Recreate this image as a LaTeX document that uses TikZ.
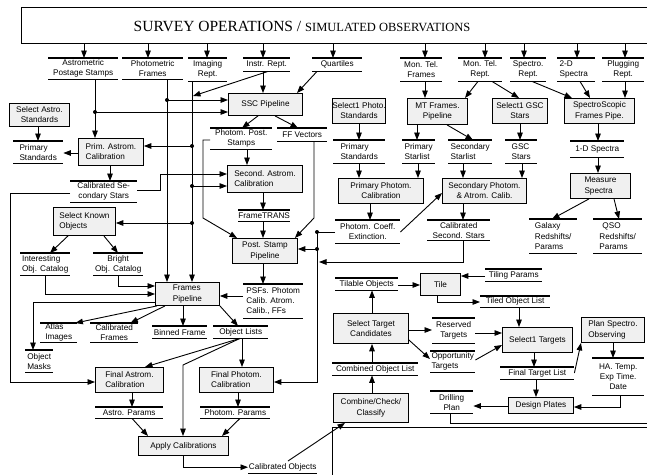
\documentclass[tikz,border=0pt]{standalone}
\usepackage{fontspec}
\setmainfont{Liberation Sans}
\newfontfamily\titlefont{Liberation Serif}
\usetikzlibrary{arrows.meta}

\begin{document}
\begin{tikzpicture}[x=1pt,y=-1pt,
  font=\fontsize{8.2}{10.2}\selectfont,
  arr/.style={line width=0.9pt,-{Triangle[length=7.5pt,width=5.6pt]}},
  ln/.style={line width=0.9pt},
  proc/.style={draw,line width=0.9pt,fill=gray!12,inner sep=0pt,align=center,anchor=north west},
  store/.style={inner sep=0pt,align=center,anchor=north west,
    append after command={(\tikzlastnode.north west) edge[line width=1.3pt] (\tikzlastnode.north east)
      (\tikzlastnode.south west) edge[line width=0.8pt] (\tikzlastnode.south east)}},
  tstore/.style={inner sep=0pt,align=center,anchor=north west,
    append after command={(\tikzlastnode.north west) edge[line width=2.2pt] (\tikzlastnode.north east)
      (\tikzlastnode.south west) edge[line width=0.8pt] (\tikzlastnode.south east)}},
  ustore/.style={inner sep=0pt,align=center,anchor=north west,
    append after command={(\tikzlastnode.south west) edge[line width=0.8pt] (\tikzlastnode.south east)}}
]
\useasboundingbox (0,0) rectangle (647,474);
\begin{scope}
\clip (0,0) rectangle (647,474);

% ---------- title bar ----------
\node[draw,line width=0.9pt,anchor=north west,minimum width=660,minimum height=36,inner sep=0pt] (title) at (21,7) {};
\node (titletext) at (302,26) {\titlefont\fontsize{15.5}{18}\selectfont SURVEY OPERATIONS / \fontsize{12.5}{14}\selectfont SIMULATED OBSERVATIONS};

% ---------- processes ----------
\node[proc,minimum width=60,minimum height=23] (selastro) at (9,103) {Select Astro.\\Standards};
\node[proc,minimum width=65,minimum height=27,align=left] (primastro) at (78,138) {Prim. Astrom.\\Calibration};
\node[proc,minimum width=74,minimum height=22] (ssc) at (228,93) {SSC Pipeline};
\node[proc,minimum width=75,minimum height=27,align=left] (secastro) at (227,165) {Second. Astrom.\\Calibration};
\node[proc,minimum width=62,minimum height=28,align=left] (selknown) at (53,207) {Select Known\\Objects};
\node[proc,minimum width=65,minimum height=25] (poststamp) at (232,238) {Post. Stamp\\Pipeline};
\node[proc,minimum width=64,minimum height=23,align=left] (frames) at (155,282) {Frames\\Pipeline};
\node[proc,minimum width=68,minimum height=25,align=left] (finastro) at (95,367) {Final Astrom.\\Calibration};
\node[proc,minimum width=74,minimum height=25,align=left] (finphotom) at (199,367) {Final Photom.\\Calibration};
\node[proc,minimum width=90,minimum height=19] (apply) at (138,436) {Apply Calibrations};
\node[proc,minimum width=52,minimum height=25] (selphoto) at (332,98) {Select1 Photo.\\Standards};
\node[proc,minimum width=60,minimum height=26] (mtframes) at (407,98) {MT Frames.\\Pipeline};
\node[proc,minimum width=55,minimum height=25] (selgsc) at (492,98) {Select1 GSC\\Stars};
\node[proc,minimum width=70,minimum height=25] (spectro) at (564,98) {SpectroScopic\\Frames Pipe.};
\node[proc,minimum width=85,minimum height=25] (primphot) at (338,178) {Primary Photom.\\Calibration};
\node[proc,minimum width=84,minimum height=25] (secphot) at (442,178) {Secondary Photom.\\\& Atrom. Calib.};
\node[proc,minimum width=60,minimum height=25,align=left] (measure) at (570,173) {Measure\\Spectra};
\node[proc,minimum width=40,minimum height=22] (tile) at (420,273) {Tile};
\node[proc,minimum width=75,minimum height=30] (seltc) at (333,313) {Select Target\\Candidates};
\node[proc,minimum width=75,minimum height=29] (combine) at (333,393) {Combine/Check/\\Classify};
\node[proc,minimum width=70,minimum height=25] (seltargets) at (502,327) {Select1 Targets};
\node[proc,minimum width=63,minimum height=25,align=left] (plan) at (581,317) {Plan Spectro.\\Observing};
\node[proc,minimum width=65,minimum height=16] (design) at (508,397) {Design Plates};

% ---------- data stores ----------
\node[store,minimum width=70,minimum height=21] (astrost) at (48,58) {Astrometric\\Postage Stamps};
\node[store,minimum width=61,minimum height=21] (photfr) at (122,58) {Photometric\\Frames};
\node[store,minimum width=39,minimum height=23] (imaging) at (188,58) {Imaging\\Rept.};
\node[store,minimum width=47,minimum height=13] (instr) at (243,58) {Instr. Rept.};
\node[store,minimum width=50,minimum height=13] (quart) at (312,58) {Quartiles};
\node[store,minimum width=42,minimum height=23] (montelfr) at (400,58) {Mon. Tel.\\Frames};
\node[store,minimum width=44,minimum height=23] (montelrp) at (458,58) {Mon. Tel.\\Rept.};
\node[store,minimum width=36,minimum height=23] (specrept) at (510,58) {Spectro.\\Rept.};
\node[store,minimum width=38,minimum height=23,align=left] (twod) at (557,58) {2-D\hspace*{20pt}\\Spectra};
\node[store,minimum width=42,minimum height=23] (plugging) at (602,58) {Plugging\\Rept.};
\node[store,minimum width=50,minimum height=22,align=left] (primstd) at (13,141) {Primary\hspace*{8pt}\\Standards};
\node[store,minimum width=67,minimum height=21] (calsec) at (70,181) {Calibrated Se-\\condary Stars};
\node[store,minimum width=62,minimum height=21] (photpost) at (210,128) {Photom. Post.\\Stamps};
\node[store,minimum width=50,minimum height=13] (ffvec) at (277,128) {FF Vectors};
\node[store,minimum width=52,minimum height=11] (frametrans) at (238,210) {FrameTRANS};
\node[store,minimum width=50,minimum height=22,align=left] (interesting) at (20,253) {Interesting\\Obj. Catalog};
\node[store,minimum width=50,minimum height=22] (bright) at (93,253) {Bright\\Obj. Catalog};
\node[store,minimum width=60,minimum height=34,align=left] (psfs) at (243,284) {PSFs. Photom\\Calib. Atrom.\\Calib., FFs};
\node[store,minimum width=37,minimum height=19,align=left] (atlas) at (40,323) {Atlas\\Images};
\node[store,minimum width=48,minimum height=19] (calframes) at (90,323) {Calibrated\\Frames};
\node[store,minimum width=55,minimum height=12] (binned) at (152,326) {Binned Frame};
\node[store,minimum width=55,minimum height=12] (objlists) at (213,326) {Object Lists};
\node[store,minimum width=28,minimum height=22,align=left] (objmasks) at (25,350) {Object\\Masks};
\node[store,minimum width=68,minimum height=11] (astroparams) at (95,407) {Astro. Params};
\node[store,minimum width=70,minimum height=11] (photparams) at (200,407) {Photom. Params};
\node[ustore,minimum width=69,minimum height=12] (calobj) at (248,461) {Calibrated Objects};
\node[store,minimum width=52,minimum height=23,align=left] (primstd2) at (333,140) {Primary\hspace*{8pt}\\Standards};
\node[store,minimum width=33,minimum height=23,align=left] (primstar) at (402,140) {Primary\\Starlist};
\node[store,minimum width=44,minimum height=23,align=left] (secstar) at (448,140) {Secondary\\Starlist};
\node[store,minimum width=32,minimum height=23,align=left] (gscstars) at (505,140) {GSC\\Stars};
\node[store,minimum width=54,minimum height=16] (onedspec) at (570,141) {1-D Spectra};
\node[store,minimum width=65,minimum height=23] (photcoeff) at (335,220) {Photom. Coeff.\\Extinction.};
\node[tstore,minimum width=63,minimum height=20] (calsecond) at (427,220) {Calibrated\\Second. Stars};
\node[store,minimum width=48,minimum height=34,align=left] (galaxy) at (529,219) {Galaxy\\Redshifts/\\Params};
\node[store,minimum width=49,minimum height=34,align=left] (qso) at (593,219) {\hspace*{3pt}QSO\\Redshifts/\\Params};
\node[store,minimum width=63,minimum height=12] (tilable) at (335,278) {Tilable Objects};
\node[store,minimum width=57,minimum height=12] (tiling) at (485,269) {Tiling Params};
\node[store,minimum width=70,minimum height=11] (tiled) at (480,296) {Tiled Object List};
\node[store,minimum width=86,minimum height=12] (combobj) at (332,363) {Combined Object List};
\node[store,minimum width=43,minimum height=25] (reserved) at (432,318) {Reserved\\Targets};
\node[tstore,minimum width=45,minimum height=21,align=left] (opport) at (430,351) {Opportunity\\Targets};
\node[tstore,minimum width=74,minimum height=12] (finaltl) at (500,367) {Final Target List};
\node[store,minimum width=52,minimum height=37] (hatemp) at (592,358) {HA. Temp.\\Exp Time.\\Date};
\node[store,minimum width=43,minimum height=22] (drilling) at (430,391) {Drilling\\Plan};

% lower right panel
\node[draw,line width=1.1pt,anchor=north west,minimum width=330,minimum height=60,inner sep=0pt] (panel) at (332,427) {};

% ---------- junctions ----------
\coordinate (j1) at (95,112);
\coordinate (j2) at (167,100);
\coordinate (j3) at (193,96);
\coordinate (j4) at (192,146);
\coordinate (j5) at (192,186);
\coordinate (j6) at (192,223);
\coordinate (j7) at (317,232);
\coordinate (j8) at (317,249);

% ---------- flows from the survey ----------
\foreach \X/\N in {84/astrost,148/photfr,207/imaging,263/instr,333/quart,425/montelfr,485/montelrp,524/specrept,577/twod,625/plugging}
  \draw[arr] (title.south -| \X,0) -- (\N.north -| \X,0);

% ---------- astrometric / photometric chain ----------
\draw[arr] (astrost.south -| 95,0) -- (primastro.north -| 95,0);
\draw[arr] (j1) -- (ssc.west |- j1);
\draw[arr] (photfr.south -| 167,0) -- (frames.north -| 167,0);
\draw[arr] (j2) -- (ssc.west |- j2);
\draw[arr] (imaging.south -| 192,0) -- (frames.north -| 192,0);
\draw[arr] (instr.south -| 268,0) -- (j3);
\draw[arr] (j4) -- (primastro.east |- j4);
\draw[arr] (j5) -- (secastro.west |- j5);
\draw[arr] (j6) -- (selknown.east |- j6);
\draw[arr] (instr.south -| 263,0) -- (ssc.north -| 263,0);
\draw[arr] (quart.south -| 317,0) -- (ssc.north -| 297,0);
\draw[arr] (ssc.south -| 258,0) -- (photpost.north -| 242,0);
\draw[arr] (ssc.south -| 275,0) -- (ffvec.north -| 298,0);
\draw[arr] (selastro.south -| 38,0) -- (primstd.north -| 38,0);
\draw[arr] (primastro.west |- 0,153) -- (primstd.east |- 0,153);
\draw[arr] (primastro.south -| 110,0) -- (calsec.north -| 110,0);
\draw[arr] (calsec.east |- 0,190) -- (160,190) |- (secastro.west |- 0,174);
\draw[arr] (calsec.west |- 0,193) -- (10,193) |- (finastro.west |- 0,382);
\draw[arr] (photpost.south -| 247,0) -- (secastro.north -| 247,0);
\draw[arr] (photpost.west |- 0,140) -- (203,140) -- (203,218) -- ([xshift=5pt]poststamp.north west);
\draw[arr] (ffvec.south -| 314,0) -- (314,218) -- ([xshift=-3pt]poststamp.north east);
\draw[arr] (secastro.south -| 263,0) -- (frametrans.north -| 263,0);
\draw[arr] (frametrans.south -| 263,0) -- (poststamp.north -| 263,0);
\draw[arr] (poststamp.south -| 263,0) -- (psfs.north -| 263,0);
\draw[arr] (psfs.west |- 0,296) -- (frames.east |- 0,296);
\draw[ln] (photcoeff.west |- j7) -- (j7);
\draw[arr] (j7) -- (317,382) -- (finphotom.east |- 0,382);
\draw[arr] (j8) -- (poststamp.east |- j8);
\draw[arr] (calsecond.south -| 463,0) |- (319,262);
\draw[arr] (photcoeff.east |- 0,232) -- (secphot.west |- 0,193);

% ---------- object catalogs and frames ----------
\draw[arr] ([xshift=15pt]selknown.south west) -- (interesting.north -| 50,0);
\draw[arr] ([xshift=-12pt]selknown.south east) -- (bright.north -| 118,0);
\draw[arr] (interesting.south -| 45,0) |- (frames.west |- 0,294);
\draw[arr] (bright.south -| 118,0) |- (frames.west |- 0,286);
\draw[arr] (frames.west |- 0,302) -| (objmasks.north -| 33,0);
\draw[arr] ([xshift=2pt]frames.south west) -- ([xshift=-2pt]atlas.north east);
\draw[arr] ([xshift=10pt]frames.south west) -- ([xshift=-8pt]calframes.north east);
\draw[arr] (frames.south -| 183,0) -- (binned.north -| 183,0);
\draw[arr] (frames.south east) -- (objlists.north -| 238,0);
\draw[arr] (objlists.south -| 240,0) -- (finastro.north -| 145,0);
\draw[arr] (objlists.south -| 240,0) -- (183,365) -- (apply.north -| 183,0);
\draw[arr] (objlists.south -| 242,0) -- (finphotom.north -| 242,0);
\draw[arr] (finastro.south -| 132,0) -- (astroparams.north -| 132,0);
\draw[arr] (finphotom.south -| 238,0) -- (photparams.north -| 238,0);
\draw[arr] (astroparams.south -| 132,0) -- (apply.north -| 148,0);
\draw[arr] (photparams.south -| 240,0) -- (apply.north -| 222,0);
\draw[arr] (apply.south -| 183,0) |- (calobj.west);
\draw[arr] (calobj.north -| 288,0) -- ([xshift=12pt]combine.south west);

% ---------- monitor telescope and spectroscopy ----------
\draw[arr] (montelrp.south -| 478,0) -- (mtframes.north -| 465,0);
\draw[arr] (montelrp.south -| 492,0) -- (selgsc.north -| 519,0);
\draw[arr] (montelfr.south -| 425,0) -- (mtframes.north -| 425,0);
\draw[arr] (selphoto.south -| 359,0) -- (primstd2.north -| 359,0);
\draw[arr] (primstd2.south -| 359,0) -- (primphot.north -| 359,0);
\draw[arr] (mtframes.south -| 417,0) -- (primstar.north -| 417,0);
\draw[arr] (mtframes.south -| 447,0) -- (secstar.north -| 473,0);
\draw[arr] (primstar.south -| 418,0) -- (primphot.north -| 418,0);
\draw[arr] (secstar.south -| 463,0) -- (secphot.north -| 463,0);
\draw[arr] (selgsc.south -| 520,0) -- (gscstars.north -| 520,0);
\draw[arr] (gscstars.south -| 522,0) -- (secphot.north -| 522,0);
\draw[arr] (primphot.south -| 370,0) -- (photcoeff.north -| 370,0);
\draw[arr] (secphot.south -| 463,0) -- (calsecond.north -| 463,0);
\draw[arr] (specrept.south -| 532,0) -- (spectro.north -| 572,0);
\draw[arr] (twod.south -| 580,0) -- (spectro.north -| 590,0);
\draw[arr] (plugging.south -| 625,0) -- (spectro.north -| 625,0);
\draw[arr] (spectro.south -| 598,0) -- (onedspec.north -| 598,0);
\draw[arr] (onedspec.south -| 598,0) -- (measure.north -| 598,0);
\draw[arr] (measure.south -| 589,0) -- (galaxy.north -| 552,0);
\draw[arr] (measure.south -| 614,0) -- (qso.north -| 619,0);

% ---------- targeting ----------
\draw[arr] (seltc.north -| 372,0) -- (tilable.south -| 372,0);
\draw[arr] (tilable.east |- 0,285) -- (tile.west |- 0,285);
\draw[arr] (tiling.west |- 0,276) -- (tile.east |- 0,276);
\draw[arr] (tile.south -| 437,0) |- (tiled.west |- 0,302);
\draw[arr] (tiled.south -| 519,0) -- (seltargets.north -| 519,0);
\draw[arr] (combine.north -| 372,0) -- (combobj.south -| 372,0);
\draw[arr] (combobj.north -| 372,0) -- (seltc.south -| 372,0);
\draw[arr] (seltc.east |- 0,330) -- (reserved.west |- 0,330);
\draw[arr] (seltc.east |- 0,340) -- (opport.west |- 0,359);
\draw[arr] (reserved.east |- 0,333) -- (seltargets.west |- 0,333);
\draw[arr] (opport.east |- 0,360) -- (seltargets.west |- 0,345);
\draw[arr] (seltargets.south -| 534,0) -- (finaltl.north -| 534,0);
\draw[arr] (finaltl.south -| 536,0) -- (design.north -| 536,0);
\draw[arr] (finaltl.east |- 0,373) -- (plan.south west);
\draw[arr] (plan.south -| 613,0) -- (hatemp.north -| 613,0);
\draw[arr] (hatemp.south -| 620,0) |- (design.east |- 0,407);
\draw[arr] (design.west |- 0,406) -- (drilling.east |- 0,406);
\draw[ln] (drilling.south -| 450,0) |- (panel.north east |- 0,423);

% junction dots
\foreach \p in {j1,j2,j4,j5,j6,j7,j8} \fill (\p) circle[radius=2pt];
\end{scope}
\end{tikzpicture}
\end{document}
